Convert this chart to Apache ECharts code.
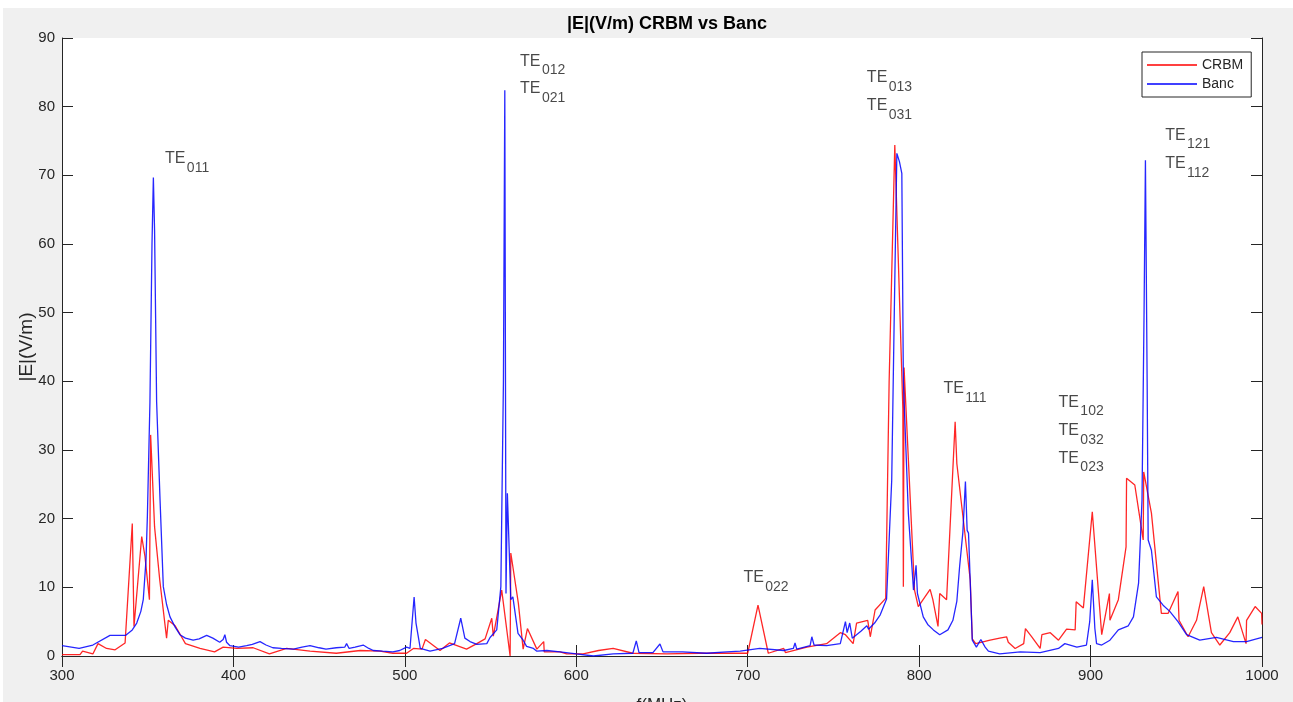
<!DOCTYPE html>
<html>
<head>
<meta charset="utf-8">
<script src="https://cdn.jsdelivr.net/npm/echarts@6/dist/echarts.min.js"></script>
<style>
  html, body { margin: 0; padding: 0; background: #fff; }
  #chart { position: absolute; left: 3px; top: 8px; width: 1290px; height: 694px; }
</style>
</head>
<body>
<div id="chart"></div>
<script>
// Banc (blue)
var bancFreq = [300,310,318,328,337,341,343.6,346,347.4,349,349.8,351.3,352.5,353.3,354,355.2,357.2,359.1,361,363,366,368.8,372,376.5,380,384.4,388,392,394,395,396,398,403,407.7,411,415.5,419,423,428,435,440,444.7,450,454,460,465,466,467.5,471,475.7,479,481.6,487,493,497,501,503,505.4,506.5,507.3,509,514.7,522,529,532.6,535,538,542,547.8,549.7,553.6,556,557.5,558.3,559,559.8,561.8,563,566,569,571,575,577,582.8,590.5,600,610,621.5,633,635,636.6,644.7,648.8,650.6,662,676,687.8,695.6,707,721,726.6,727.6,728.6,736.4,737.4,738.7,746,754,757,758,759.5,761,766,769.5,770.5,774,777.3,781,784,785.5,787,788.5,789.9,790.8,793.7,796.7,798.2,799,802.4,805,808.3,812,816.8,819.7,822,823.6,825.5,827,828,828.8,831,833.4,836,838.5,840.4,847,859,870.6,881.3,885,892,897.6,899.5,901,902.5,903.5,906.5,911.3,916.2,922,925,928,930,931.2,932,933,933.6,935.5,938.4,942.3,946.2,951,956,963.7,973.4,983.3,991,1000];
var bancE = [1.5,1.1,1.6,3.0,3.0,3.8,4.8,6.5,8.2,14,20.3,37,60,69.7,62,37,22.7,10.1,7.5,5.7,4.2,3.1,2.6,2.3,2.5,3.0,2.6,2.0,2.4,3.1,2.0,1.5,1.3,1.5,1.7,2.1,1.6,1.2,1.1,1.0,1.3,1.5,1.2,1.0,1.2,1.3,1.8,1.1,1.3,1.6,1.1,0.8,0.7,0.6,0.8,1.3,1.1,8.6,4.8,4.6,1.1,0.7,1.1,1.8,5.5,2.6,2.1,1.7,1.8,2.7,3.8,10.1,40,82.4,9.1,23.7,8.2,8.6,3.3,2.3,1.4,1.1,0.7,0.8,0.6,0.3,0.0,0.3,0.4,2.2,0.5,0.5,1.75,0.6,0.6,0.4,0.6,0.7,1.1,0.8,1.1,1.9,1.0,1.5,2.8,1.6,1.5,1.8,5.0,3.4,4.8,2.6,3.6,4.4,3.9,4.8,6.0,8.3,25.6,50,73.2,72,70.3,40,20.8,9.6,13.2,9.1,5.7,4.6,3.8,3.1,3.8,5.2,8,13,18,25.4,18.3,17.9,2.3,1.3,2.4,1.3,0.7,0.3,0.6,0.5,1.1,1.8,1.3,1.6,5,11.1,4,1.8,1.6,2.3,3.8,4.4,5.7,10.6,22.7,50,72.2,40,16.9,15.4,8.6,7.4,6.5,5.0,3.1,2.3,2.7,2.1,2.1,2.7];

// CRBM (red)
var crbmFreq = [300,310.5,312,318,321,326,331,336.8,341,342,346.5,348.4,351,351.7,354,357,361,362,366,372,380.5,381.5,389,394,402,411.5,421,431,444.7,460,474,485.5,493,501,505,510,512,520.5,526,536,542,546.8,550.7,551.6,556.5,561.4,561.8,566.2,569,571.5,577,581,581.3,590.5,594.4,604,613,621.5,633,652.8,672,691.5,700,706,712,721,722,734.5,746,754,757,761.5,763.5,770,771.5,774.3,780.5,782.5,785.8,790.5,790.8,791.2,797.3,799.5,806.4,808,811,812,816,821,822,829.8,831,833,841.4,847,851,852,856,861,862,865.7,870.6,871.6,876.5,881.3,886,891,891.6,895.8,901,906.5,911,911.3,916.2,920.7,921,925.8,930.7,931,935.5,941.3,945.2,951,951.6,956.9,961.8,966,970.5,975.4,981.2,985.9,990.7,991,996,999.8,1000];
var crbmE = [0.2,0.2,0.7,0.3,1.8,1.1,0.9,1.9,19.3,4.3,17.4,14.5,8.2,32.2,18.8,11.1,2.6,5.2,4.4,1.8,1.1,1.3,0.6,1.3,1.1,1.2,0.3,1.1,0.7,0.4,0.8,0.7,0.4,0.4,1.1,1.0,2.4,0.8,1.9,1.0,1.8,2.5,5.5,2.9,9.6,0.0,15.0,7.7,1.0,4.0,1.0,2.1,0.6,0.6,0.3,0.3,0.8,1.1,0.4,0.3,0.4,0.4,0.4,7.4,0.4,1.1,0.5,1.3,1.8,3.4,3.1,1.8,4.8,5.2,2.8,6.7,8.4,40,74.4,36,10.1,42,9.6,7.2,9.7,8.2,4.3,9.1,8.2,34.1,28,11.1,2.5,1.8,2.3,2.6,2.8,2.0,1.1,1.8,4.0,2.8,1.1,3.1,3.4,2.3,3.9,3.8,7.9,7.0,21.0,3.1,9.1,5.2,8.2,15.9,25.9,24.9,16.9,26.8,20.8,6.2,6.2,9.4,5.2,2.8,5.2,10.1,3.4,1.6,3.4,5.7,1.8,5.2,7.2,6.2,4.6];

// mode labels (TE + subscript), anchored at left edge / middle of "TE"
var annSub  = ['011','012','021','013','031','022','111','102','032','023','121','112'];
var annFreq = [360.1,567.2,567.2,769.5,769.5,697.5,814.2,881.3,881.3,881.3,943.5,943.5];
var annVal  = [72.4,86.6,82.6,84.2,80.1,11.4,38.9,36.9,32.8,28.8,75.8,71.7];

var xTicks = {min: 300, max: 1000, interval: 100};
var yTicks = {min: 0, max: 90, interval: 10};

function zip(a, b) {
  return a.map(function(v, i){ return [v, b[i]]; });
}

var fontFam = '"Liberation Sans", Arial, Helvetica, sans-serif';
var axisCol = '#262626';

var myChart = echarts.init(document.getElementById('chart'));

var option = {
  animation: false,
  backgroundColor: '#f0f0f0',
  textStyle: { fontFamily: fontFam },
  title: {
    text: '|E|(V/m) CRBM vs Banc',
    left: 659, top: 2, textAlign: 'center',
    textStyle: { fontSize: 18, fontWeight: 'bold', color: '#000', fontFamily: fontFam }
  },
  legend: {
    data: ['CRBM', 'Banc'],
    orient: 'vertical',
    left: 1139, top: 44,
    padding: [6, 8, 6, 5],
    icon: 'rect',
    itemWidth: 50, itemHeight: 1.5, itemGap: 5,
    backgroundColor: '#fff',
    borderColor: axisCol, borderWidth: 1, borderRadius: 0,
    textStyle: { fontSize: 14, color: axisCol, fontFamily: fontFam }
  },
  grid: {
    left: 59, right: 31, top: 30, bottom: 46,
    outerBoundsMode: 'none', containLabel: false,
    show: true, backgroundColor: '#fff', borderWidth: 0
  },
  xAxis: [{
    type: 'value', min: xTicks.min, max: xTicks.max, interval: xTicks.interval,
    name: 'f(MHz)', nameLocation: 'middle', nameGap: 41, nameMoveOverlap: false,
    nameTextStyle: { fontSize: 17, color: axisCol },
    axisLine: { show: true, onZero: false, lineStyle: { color: axisCol, width: 1 } },
    axisTick: { show: true, inside: true, length: 11, lineStyle: { color: axisCol } },
    axisLabel: { fontSize: 15, color: axisCol, margin: 12, formatter: function(v){ return String(v); } },
    splitLine: { show: false }
  }, {
    type: 'value', position: 'top', min: xTicks.min, max: xTicks.max, interval: xTicks.interval,
    axisLine: { show: true, lineStyle: { color: axisCol, width: 1 } },
    axisTick: { show: true, inside: true, length: 11, lineStyle: { color: axisCol } },
    axisLabel: { show: false },
    splitLine: { show: false }
  }],
  yAxis: [{
    type: 'value', min: yTicks.min, max: yTicks.max, interval: yTicks.interval,
    name: '|E|(V/m)', nameLocation: 'middle', nameGap: 26, nameRotate: 90, nameMoveOverlap: false,
    nameTextStyle: { fontSize: 19, color: axisCol },
    axisLine: { show: true, onZero: false, lineStyle: { color: axisCol, width: 1 } },
    axisTick: { show: true, inside: true, length: 11, lineStyle: { color: axisCol } },
    axisLabel: { fontSize: 15, color: axisCol, margin: 7 },
    splitLine: { show: false }
  }, {
    type: 'value', position: 'right', min: yTicks.min, max: yTicks.max, interval: yTicks.interval,
    axisLine: { show: true, lineStyle: { color: axisCol, width: 1 } },
    axisTick: { show: true, inside: true, length: 11, lineStyle: { color: axisCol } },
    axisLabel: { show: false },
    splitLine: { show: false }
  }],
  series: [{
    name: 'CRBM', type: 'line', symbol: 'none', smooth: false,
    data: zip(crbmFreq, crbmE),
    itemStyle: { color: '#ff0000' },
    lineStyle: { color: '#ff0000', width: 1.3, opacity: 0.85 },
    z: 3
  }, {
    name: 'Banc', type: 'line', symbol: 'none', smooth: false,
    data: zip(bancFreq, bancE),
    itemStyle: { color: '#0000ff' },
    lineStyle: { color: '#0000ff', width: 1.3, opacity: 0.85 },
    z: 4
  }, {
    name: 'modes', type: 'scatter', silent: true, symbolSize: 0,
    data: zip(annFreq, annVal),
    z: 5,
    label: {
      show: true, position: 'right', distance: 0, offset: [0, 9],
      formatter: function(p){ return '{t|TE}{g| }{s|' + annSub[p.dataIndex] + '}'; },
      rich: {
        t: { fontSize: 16, lineHeight: 16, verticalAlign: 'top', color: '#1a1a1a', fontFamily: fontFam },
        g: { fontSize: 5, lineHeight: 16, verticalAlign: 'top' },
        s: { fontSize: 14, lineHeight: 34, verticalAlign: 'middle', color: '#1a1a1a', fontFamily: fontFam }
      }
    }
  }]
};

myChart.setOption(option);
</script>
</body>
</html>
